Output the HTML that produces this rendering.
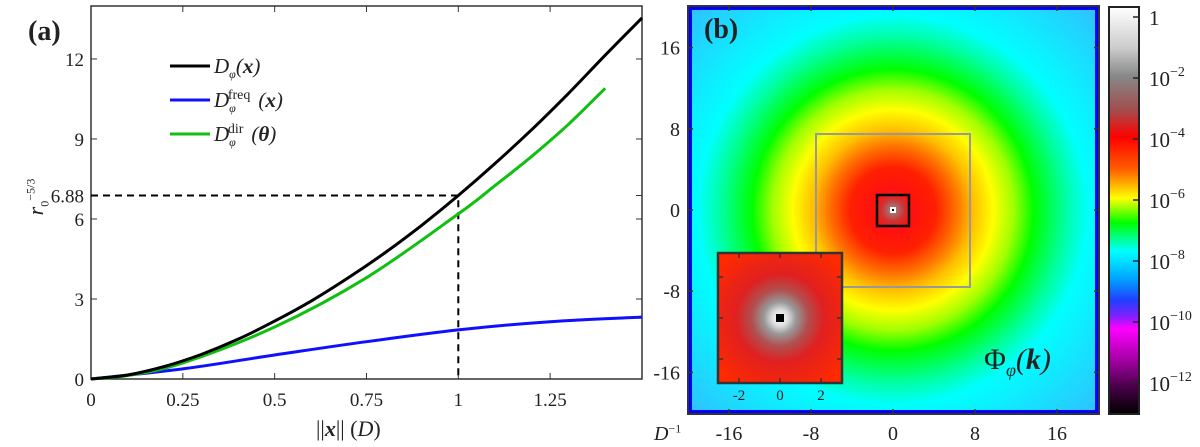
<!DOCTYPE html>
<html><head><meta charset="utf-8">
<style>
body{margin:0;background:#fff;}
#wrap{position:relative;width:1200px;height:447px;overflow:hidden;font-family:"Liberation Serif",serif;}
svg{position:absolute;left:0;top:0;}
.t{position:absolute;font-size:19px;color:#222;white-space:nowrap;line-height:1;}
.i{font-style:italic}
.b{font-weight:bold}
sub,sup{font-size:12px;line-height:0}
</style></head><body>
<div id="wrap">
<svg id="svg" width="1200" height="447">
<defs>
<radialGradient id="rg" gradientUnits="userSpaceOnUse" cx="893" cy="210" r="287">
<stop offset="0" stop-color="#909090"/>
<stop offset="0.04" stop-color="#d03030"/>
<stop offset="0.07" stop-color="#ff1010"/>
<stop offset="0.15" stop-color="#ff2000"/>
<stop offset="0.22" stop-color="#ff7000"/>
<stop offset="0.28" stop-color="#ffc000"/>
<stop offset="0.35" stop-color="#ffff00"/>
<stop offset="0.42" stop-color="#a0ff00"/>
<stop offset="0.49" stop-color="#00ff00"/>
<stop offset="0.6" stop-color="#00ffa0"/>
<stop offset="0.68" stop-color="#00ffff"/>
<stop offset="1" stop-color="#30c0ff"/>
</radialGradient>
<radialGradient id="ig" gradientUnits="userSpaceOnUse" cx="780" cy="318" r="80">
<stop offset="0" stop-color="#ffffff"/>
<stop offset="0.1" stop-color="#dddddd"/>
<stop offset="0.2" stop-color="#999"/>
<stop offset="0.35" stop-color="#b05050"/>
<stop offset="0.55" stop-color="#e02020"/>
<stop offset="1" stop-color="#ff2a00"/>
</radialGradient>
<linearGradient id="cb" x1="0" y1="0" x2="0" y2="1">
<stop offset="0" stop-color="#ffffff"/>
<stop offset="0.1" stop-color="#cccccc"/>
<stop offset="0.17" stop-color="#888888"/>
<stop offset="0.25" stop-color="#a05050"/>
<stop offset="0.32" stop-color="#ff0000"/>
<stop offset="0.4" stop-color="#ff6000"/>
<stop offset="0.47" stop-color="#ffff00"/>
<stop offset="0.53" stop-color="#00ff00"/>
<stop offset="0.6" stop-color="#00ffff"/>
<stop offset="0.67" stop-color="#00a0ff"/>
<stop offset="0.72" stop-color="#2040ff"/>
<stop offset="0.76" stop-color="#8020ff"/>
<stop offset="0.79" stop-color="#ff00ff"/>
<stop offset="0.87" stop-color="#a000a0"/>
<stop offset="0.94" stop-color="#400040"/>
<stop offset="1" stop-color="#000000"/>
</linearGradient>
</defs>
<rect x="688" y="6" width="411" height="408" fill="#0000ff"/>
<rect x="692" y="10" width="403" height="400" fill="url(#rg)"/>
<rect x="688" y="6" width="411" height="408" fill="none" stroke="#333" stroke-width="2"/>
<rect x="816" y="134" width="154" height="153" fill="none" stroke="#999" stroke-width="2"/>
<rect x="877" y="195" width="32" height="31" fill="none" stroke="#000" stroke-width="2.5"/>
<rect x="890" y="207" width="6" height="6" fill="#fff"/>
<rect x="892" y="209" width="2" height="2" fill="#000"/>
<rect x="718" y="253" width="124" height="130" fill="url(#ig)" stroke="#333" stroke-width="2.5"/>
<rect x="776" y="314" width="8" height="8" fill="#000"/>
<rect x="1109" y="7" width="30" height="407" fill="url(#cb)" stroke="#222" stroke-width="2"/>
<g id="ga"></g>
<g id="gb"></g>
</svg>

<div class="t b" style="left:28px;top:18px;font-size:28px">(a)</div>
<div class="t b" style="left:704px;top:16px;font-size:28px">(b)</div>

<div class="t i" style="left:214px;top:56px;font-size:21px">D<sub>φ</sub>(<b>x</b>)</div>
<div class="t i" style="left:214px;top:90px;font-size:21px">D<sub>φ</sub><sup style="font-style:normal;position:relative;left:-8px;font-size:14px">freq</sup>(<b>x</b>)</div>
<div class="t i" style="left:214px;top:124px;font-size:21px">D<sub>φ</sub><sup style="font-style:normal;position:relative;left:-8px;font-size:14px">dir</sup>(<b>θ</b>)</div>

<div class="t" style="left:6px;top:186px;transform:rotate(-90deg);transform-origin:center;font-size:22px;width:60px;text-align:center"><span class="i">r</span><sub>0</sub><sup>−5/3</sup></div>
<div class="t" style="left:316px;top:418px;font-size:22px">||<b class="i">x</b>|| (<span class="i">D</span>)</div>

<div class="t i" style="left:984px;top:345px;font-size:30px"><span style="font-style:normal">Φ</span><sub style="font-size:18px">φ</sub>(<b>k</b>)</div>
<div class="t i" style="left:654px;top:424px;font-size:20px">D<sup style="font-style:normal">−1</sup></div>

<script>
const xs = [0,0.1,0.2,0.3,0.4,0.5,0.6,0.7,0.8,0.9,1.0,1.1,1.2,1.3,1.4,1.5];
const dPhi = [0,0.15,0.47,0.92,1.49,2.17,2.93,3.79,4.73,5.76,6.88,8.08,9.35,10.71,12.14,13.54];
const greenX = [0,0.1,0.25,0.5,0.75,1.0,1.1,1.2,1.3,1.4];
const dDir = [0,0.13,0.6,1.95,3.8,6.19,7.25,8.35,9.55,10.9];
const blueX = [0,0.25,0.5,0.75,1.0,1.25,1.5];
const dFreq = [0,0.38,0.9,1.4,1.84,2.15,2.32];
const xTicks = [0,0.25,0.5,0.75,1,1.25];
const xTickLabels = ["0","0.25","0.5","0.75","1","1.25"];
const yTicks = [0,3,6,6.88,9,12];
const yTickLabels = ["0","3","6","6.88","9","12"];
const kTicks = [-16,-8,0,8,16];
const kTickLabels = ["-16","-8","0","8","16"];
const insetTicks = [-2,0,2];
const insetTickLabels = ["-2","0","2"];
const cbExp = [0,-2,-4,-6,-8,-10,-12];
const cbLabels = ["1","10","10","10","10","10","10"];

const NS="http://www.w3.org/2000/svg";
const ga=document.getElementById('ga'), gb=document.getElementById('gb');
const X=v=>91+v*367.3, Y=v=>379-v*26.67;
function mk(tag,attrs,parent){const e=document.createElementNS(NS,tag);for(const k in attrs)e.setAttribute(k,attrs[k]);parent.appendChild(e);return e;}
function txt(x,y,s,anchor,size,parent){const e=mk('text',{x:x,y:y,'text-anchor':anchor,'font-size':size,'font-family':'Liberation Serif, serif',fill:'#222'},parent);e.textContent=s;return e;}
function smooth(pts){
  let d='M'+pts[0][0].toFixed(1)+','+pts[0][1].toFixed(1);
  for(let i=0;i<pts.length-1;i++){
    const p0=pts[Math.max(0,i-1)],p1=pts[i],p2=pts[i+1],p3=pts[Math.min(pts.length-1,i+2)];
    const c1=[p1[0]+(p2[0]-p0[0])/6,p1[1]+(p2[1]-p0[1])/6];
    const c2=[p2[0]-(p3[0]-p1[0])/6,p2[1]-(p3[1]-p1[1])/6];
    d+=`C${c1[0].toFixed(1)},${c1[1].toFixed(1)} ${c2[0].toFixed(1)},${c2[1].toFixed(1)} ${p2[0].toFixed(1)},${p2[1].toFixed(1)}`;
  }
  return d;
}
function line(xa,ya,col,name){
  const d=smooth(xa.map((v,i)=>[X(v),Y(ya[i])]));
  const p=mk('path',{d:d,fill:'none',stroke:col,'stroke-width':3},ga);
  
  
}
const fr=mk('rect',{x:91,y:6,width:551,height:373,fill:'none',stroke:'#333','stroke-width':1.5},ga);


xTicks.forEach((t,i)=>{
  mk('line',{x1:X(t),x2:X(t),y1:379,y2:373,stroke:'#333'},ga);
  mk('line',{x1:X(t),x2:X(t),y1:6,y2:12,stroke:'#333'},ga);
  const e=txt(X(t),406,xTickLabels[i],'middle',19,ga);
  
  
});
yTicks.forEach((t,i)=>{
  mk('line',{x1:91,x2:97,y1:Y(t),y2:Y(t),stroke:'#333'},ga);
  mk('line',{x1:642,x2:636,y1:Y(t),y2:Y(t),stroke:'#333'},ga);
  const e=txt(84,Y(t)+7,yTickLabels[i],'end',19,ga);
  
  
});
const ref=mk('path',{d:`M91,${Y(6.88)}H${X(1)}V379`,fill:'none',stroke:'#000','stroke-width':2,'stroke-dasharray':'7,5'},ga);


line(blueX,dFreq,'#1010ff','series-d-freq');
line(greenX,dDir,'#10c010','series-d-dir');
line(xs,dPhi,'#000','series-d-phi');
[['#000',66],['#1010ff',100],['#10c010',134]].forEach(([c,y])=>{
  const l=mk('line',{x1:170,x2:210,y1:y,y2:y,stroke:c,'stroke-width':3},ga);
  
  
});
const KX=v=>893+v*10.25, KY=v=>210-v*10.15;
kTicks.forEach((t,i)=>{
  mk('line',{x1:KX(t),x2:KX(t),y1:414,y2:409,stroke:'#333','stroke-width':1.5},gb);
  mk('line',{x1:KX(t),x2:KX(t),y1:6,y2:11,stroke:'#333','stroke-width':1.5},gb);
  mk('line',{x1:688,x2:693,y1:KY(t),y2:KY(t),stroke:'#333','stroke-width':1.5},gb);
  mk('line',{x1:1099,x2:1094,y1:KY(t),y2:KY(t),stroke:'#333','stroke-width':1.5},gb);
  const a=txt(KX(t),440,kTickLabels[i],'middle',20,gb);
  
  
  const b=txt(680,KY(t)+7,kTickLabels[i],'end',20,gb);
  
  
});
const IX=v=>780+v*20.5, IY=v=>318-v*20.5;
insetTicks.forEach((t,i)=>{
  mk('line',{x1:IX(t),x2:IX(t),y1:383,y2:378,stroke:'#333','stroke-width':1.5},gb);
  mk('line',{x1:IX(t),x2:IX(t),y1:253,y2:258,stroke:'#333','stroke-width':1.5},gb);
  mk('line',{x1:718,x2:723,y1:IY(t),y2:IY(t),stroke:'#333','stroke-width':1.5},gb);
  mk('line',{x1:842,x2:837,y1:IY(t),y2:IY(t),stroke:'#333','stroke-width':1.5},gb);
  const e=txt(IX(t),400,insetTickLabels[i],'middle',15,gb);
  
  
});
const CY=e=>17-e*30.5;
cbExp.forEach((ex,i)=>{
  mk('line',{x1:1139,x2:1133,y1:CY(ex),y2:CY(ex),stroke:'#222','stroke-width':1.5},gb);
  const t=txt(1149,CY(ex)+8,cbLabels[i],'start',21,gb);
  
  
  if(ex!==0){const s=mk('tspan',{dy:-10,'font-size':14},t);s.textContent='−'+(-ex);}
});
</script>
</div>
</body></html>
